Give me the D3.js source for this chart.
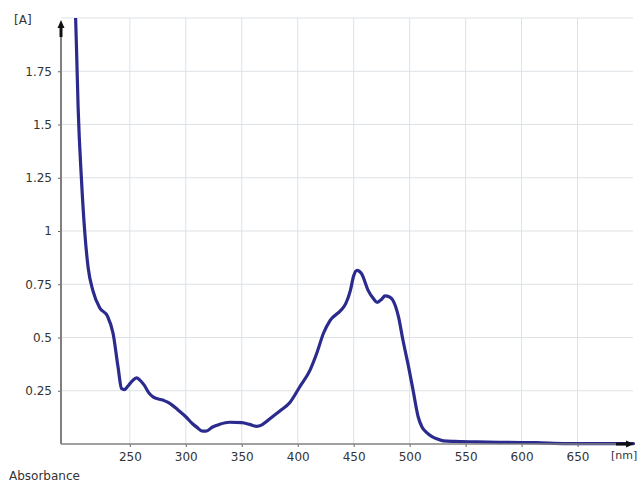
<!DOCTYPE html>
<html>
  <head>
    <meta charset="utf-8" />
    <title>Absorbance spectrum</title>
    <script src="https://d3js.org/d3.v7.min.js"></script>
    <style>
      body { margin: 0; background: #fff; }
      text { font-family: "DejaVu Sans", sans-serif; font-size: 12px; fill: #333; }
    </style>
  </head>
  <body>

    <svg id="chart" width="641" height="482"></svg>

    <script>

        // spectrum
        var wavelength = [201, 202.4, 203.8, 206.8, 209.8, 212.7, 217, 223, 230, 235,
            239.5, 242.6, 245, 248, 252, 256, 259, 263, 267, 271,
            280, 286, 293, 300, 306, 310, 315, 318, 324, 330,
            339, 350, 357, 363, 368, 372, 378, 384, 393, 402,
            411, 417, 423, 429, 439, 443, 447, 450, 453, 457,
            463, 468, 471, 475, 478, 482, 485, 490, 494, 499,
            503, 507.6, 511, 515, 520, 524, 530, 540, 560, 580,
            600, 613, 640, 700];
        var absorbance = [2.1, 1.85, 1.58, 1.24, 0.99, 0.83, 0.72, 0.64, 0.60, 0.52,
            0.36, 0.26, 0.255, 0.27, 0.295, 0.31, 0.30, 0.275, 0.24, 0.22,
            0.205, 0.19, 0.16, 0.128, 0.095, 0.078, 0.06, 0.06, 0.08, 0.092,
            0.102, 0.10, 0.092, 0.083, 0.09, 0.105, 0.13, 0.155, 0.195, 0.27,
            0.347, 0.426, 0.52, 0.58, 0.63, 0.66, 0.72, 0.79, 0.815, 0.80,
            0.72, 0.68, 0.665, 0.68, 0.695, 0.69, 0.675, 0.598, 0.488, 0.363,
            0.254, 0.128, 0.08, 0.055, 0.035, 0.025, 0.015, 0.012, 0.01, 0.008,
            0.007, 0.006, 0.002, 0.002];

        var xTicks = [250, 300, 350, 400, 450, 500, 550, 600, 650];
        var yTicks = [0.25, 0.5, 0.75, 1, 1.25, 1.5, 1.75];
        var yTickLabels = ["0.25", "0.5", "0.75", "1", "1.25", "1.5", "1.75"];

        var svg = d3.select("#chart");

        var x = d3.scaleLinear().domain([188.5, 700]).range([61, 633.5]);
        var y = d3.scaleLinear().domain([0, 2]).range([444, 18]);

        // grid
        svg.append("g")
          .selectAll("line.v")
          .data(xTicks)
          .enter().append("line")
            .attr("x1", function (d) { return x(d); })
            .attr("x2", function (d) { return x(d); })
            .attr("y1", y(2))
            .attr("y2", y(0))
            .attr("stroke", "#dde2e6")
            .attr("stroke-width", 1);

        svg.append("g")
          .selectAll("line.h")
          .data(yTicks.concat([2]))
          .enter().append("line")
            .attr("x1", x(188.5))
            .attr("x2", 633)
            .attr("y1", function (d) { return y(d); })
            .attr("y2", function (d) { return y(d); })
            .attr("stroke", "#dde2e6")
            .attr("stroke-width", 1);

        // axes
        var xAxis = svg.append("g")
          .attr("transform", "translate(0," + y(0) + ")")
          .call(d3.axisBottom(x).tickValues(xTicks).tickSize(3).tickPadding(5));

        var yAxis = svg.append("g")
          .attr("transform", "translate(" + x(188.5) + ",0)")
          .call(d3.axisLeft(y).tickValues(yTicks).tickSize(3).tickPadding(6)
            .tickFormat(function (d, i) { return yTickLabels[i]; }));

        xAxis.select(".domain").remove();
        yAxis.select(".domain").remove();
        svg.selectAll(".tick line").attr("stroke", "#666");
        svg.selectAll(".tick text").attr("fill", "#333")
          .style("font-family", "DejaVu Sans").style("font-size", "12px");

        // clip so the steep start stops at the top of the plot
        svg.append("clipPath").attr("id", "plot")
          .append("rect")
            .attr("x", 61).attr("y", y(2))
            .attr("width", 575).attr("height", y(0) - y(2) + 4);

        var line = d3.line()
          .x(function (d) { return x(d[0]); })
          .y(function (d) { return y(d[1]); })
          .curve(d3.curveMonotoneX);

        svg.append("path")
          .datum(d3.zip(wavelength, absorbance))
          .attr("clip-path", "url(#plot)")
          .attr("d", line)
          .attr("fill", "none")
          .attr("stroke", "#2b2b8e")
          .attr("stroke-width", 3.2)
          .attr("stroke-linejoin", "round")
          .attr("stroke-linecap", "round");

        // axis lines with arrow heads
        svg.append("line")
          .attr("x1", 61).attr("x2", 61)
          .attr("y1", 22).attr("y2", y(0))
          .attr("stroke", "#808080").attr("stroke-width", 2);

        svg.append("line")
          .attr("x1", 61).attr("x2", 632)
          .attr("y1", y(0)).attr("y2", y(0))
          .attr("stroke", "#808080").attr("stroke-width", 1.5);

        svg.append("path")
          .attr("d", "M61,20 L57.5,28 L59.5,28 L59.5,37 L62.5,37 L62.5,28 L64.5,28 Z")
          .attr("fill", "#111");

        svg.append("path")
          .attr("d", "M634," + y(0) + " l-8,-3.5 l0,2 l-10,0 l0,3 l10,0 l0,2 Z")
          .attr("fill", "#111");

        // labels
        svg.append("text").attr("x", 14).attr("y", 24).text("[A]");
        svg.append("text").attr("x", 611).attr("y", 459)
          .style("font-size", "11px").text("[nm]");
        svg.append("text").attr("x", 9).attr("y", 480).text("Absorbance");

    </script>

  </body>
</html>
